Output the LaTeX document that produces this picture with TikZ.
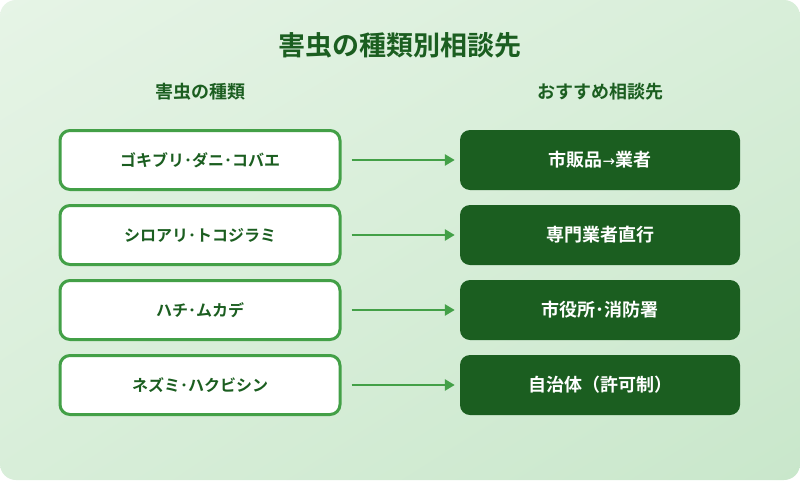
\documentclass[tikz,border=0pt]{standalone}
\usepackage{fontspec}
\setmainfont{Noto Sans CJK JP}[BoldFont={* Bold}]
\newfontfamily\jpb{Noto Sans CJK JP Bold}
\newfontfamily\arrfont{DejaVu Sans}
\newcommand{\hdot}{･}
\usetikzlibrary{arrows.meta,shadings}
\definecolor{dkgreen}{HTML}{1B5E20}
\definecolor{mdgreen}{HTML}{43A047}
\definecolor{bgA}{HTML}{E6F4E6}
\definecolor{bgB}{HTML}{C9E7CB}
\definecolor{bgM}{HTML}{D8EED9}
\tikzset{
  pestbox/.style={draw=mdgreen, line width=3pt, fill=white, rounded corners=10pt,
    minimum width=280pt, minimum height=59pt, inner sep=0pt,
    font=\jpb\fontsize{16}{19}\selectfont, text=dkgreen},
  advbox/.style={fill=dkgreen, rounded corners=10pt,
    minimum width=280pt, minimum height=60pt, inner sep=0pt,
    font=\jpb\fontsize{18}{21}\selectfont, text=white},
  conn/.style={draw=mdgreen, line width=2.6pt, -{Triangle[length=10pt,width=11pt]}},
  titletext/.style={font=\jpb\fontsize{27}{32}\selectfont, text=dkgreen},
  headtext/.style={font=\jpb\fontsize{18}{21}\selectfont, text=dkgreen},
}
\begin{document}
\begin{tikzpicture}[x=1pt,y=-1pt]
\useasboundingbox (0,0) rectangle (800,480);
\fill[white] (0,0) rectangle (800,480);
\shade[rounded corners=16pt, upper left=bgA, upper right=bgM, lower left=bgM, lower right=bgB]
  (0,0) rectangle (800,480);
\node[titletext] (title) at (400,45) {害虫の種類別相談先};
\node[headtext] (hl) at (200,92) {害虫の種類};
\node[headtext] (hr) at (600,92) {おすすめ相談先};
\node[pestbox] (p1) at (200,160) {ゴキブリ\hdot ダニ\hdot コバエ};
\node[pestbox] (p2) at (200,235) {シロアリ\hdot トコジラミ};
\node[pestbox] (p3) at (200,310) {ハチ\hdot ムカデ};
\node[pestbox] (p4) at (200,385) {ネズミ\hdot ハクビシン};
\node[advbox] (a1) at (600,160) {市販品{\arrfont\fontsize{15}{18}\selectfont →}業者};
\node[advbox] (a2) at (600,235) {専門業者直行};
\node[advbox] (a3) at (600,310) {市役所\hdot 消防署};
\node[advbox] (a4) at (600,385) {自治体（許可制）};
\foreach \i in {1,...,4}{
  \draw[conn] ([xshift=10pt]p\i.east) -- ([xshift=-5pt]a\i.west);
}
\end{tikzpicture}
\end{document}
